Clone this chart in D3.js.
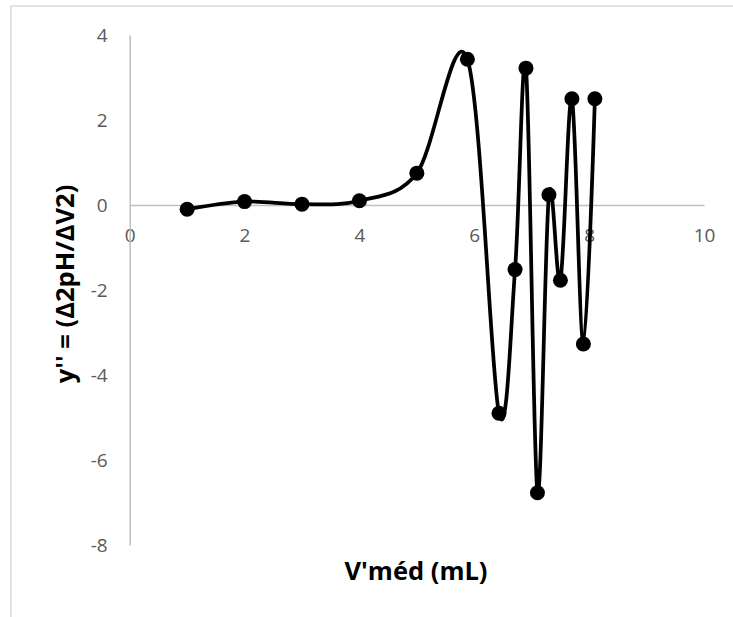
<!DOCTYPE html>
<html><head><meta charset="utf-8">
<script src="https://cdn.jsdelivr.net/npm/d3@7"></script>
<style>body{margin:0;background:#fff}</style>
</head><body>
<script>
const xValues = [1, 2, 3, 4, 5, 5.88, 6.43, 6.71, 6.9, 7.1, 7.3, 7.5, 7.7, 7.9, 8.1];
const yValues = [-0.1, 0.08, 0.02, 0.1, 0.75, 3.43, -4.9, -1.52, 3.22, -6.77, 0.24, -1.77, 2.5, -3.27, 2.5];
const xTicks = [0, 2, 4, 6, 8, 10];
const yTicks = [4, 2, 0, -2, -4, -6, -8];
const xTitle = "V'méd (mL)";
const yTitle = "y'' = (Δ2pH/ΔV2)";

const W = 733, H = 617;
const svg = d3.select("body").append("svg").attr("width", W).attr("height", H);
const font = "'Open Sans', 'Liberation Sans', sans-serif";

// chart frame
svg.append("rect").attr("x", 11).attr("y", 6).attr("width", 740).attr("height", 640)
  .attr("fill", "none").attr("stroke", "#d9d9d9").attr("stroke-width", 1.5);

const x = d3.scaleLinear().domain([0, 10]).range([129.7, 704]);
const y = d3.scaleLinear().domain([-8, 4]).range([545, 35]);

// axes
const xAxis = svg.append("g").attr("transform", `translate(0,${y(0)})`)
  .call(d3.axisBottom(x).tickValues(xTicks).tickSize(0).tickPadding(24).tickFormat(d3.format("d")));
const yAxis = svg.append("g").attr("transform", `translate(${x(0)},0)`)
  .call(d3.axisLeft(y).tickValues(yTicks).tickSize(0).tickPadding(22).tickFormat(d => d < 0 ? "-" + Math.abs(d) : d));
[xAxis, yAxis].forEach(g => {
  g.select(".domain").attr("stroke", "#bfbfbf").attr("stroke-width", 1.5);
  g.selectAll("text").attr("fill", "#595959").style("font-family", font).style("font-size", "19px");
});

// line
const pts = xValues.map((v, i) => [v, yValues[i]]);
const line = d3.line().x(d => x(d[0])).y(d => y(d[1])).curve(d3.curveCardinal.tension(0));
svg.append("path").attr("d", line(pts)).attr("fill", "none").attr("stroke", "#000").attr("stroke-width", 3.75);
svg.selectAll("circle.pt").data(pts).join("circle").attr("class", "pt")
  .attr("cx", d => x(d[0])).attr("cy", d => y(d[1])).attr("r", 7.5).attr("fill", "#000");

// titles
svg.append("text").attr("x", 416).attr("y", 580).attr("text-anchor", "middle")
  .style("font-family", font).style("font-size", "25.5px").style("font-weight", "bold").attr("fill", "#000").text(xTitle);
svg.append("text").attr("transform", "translate(74,284) rotate(-90)").attr("text-anchor", "middle")
  .style("font-family", font).style("font-size", "25.5px").style("font-weight", "bold").attr("fill", "#000").text(yTitle);
</script>
</body></html>
